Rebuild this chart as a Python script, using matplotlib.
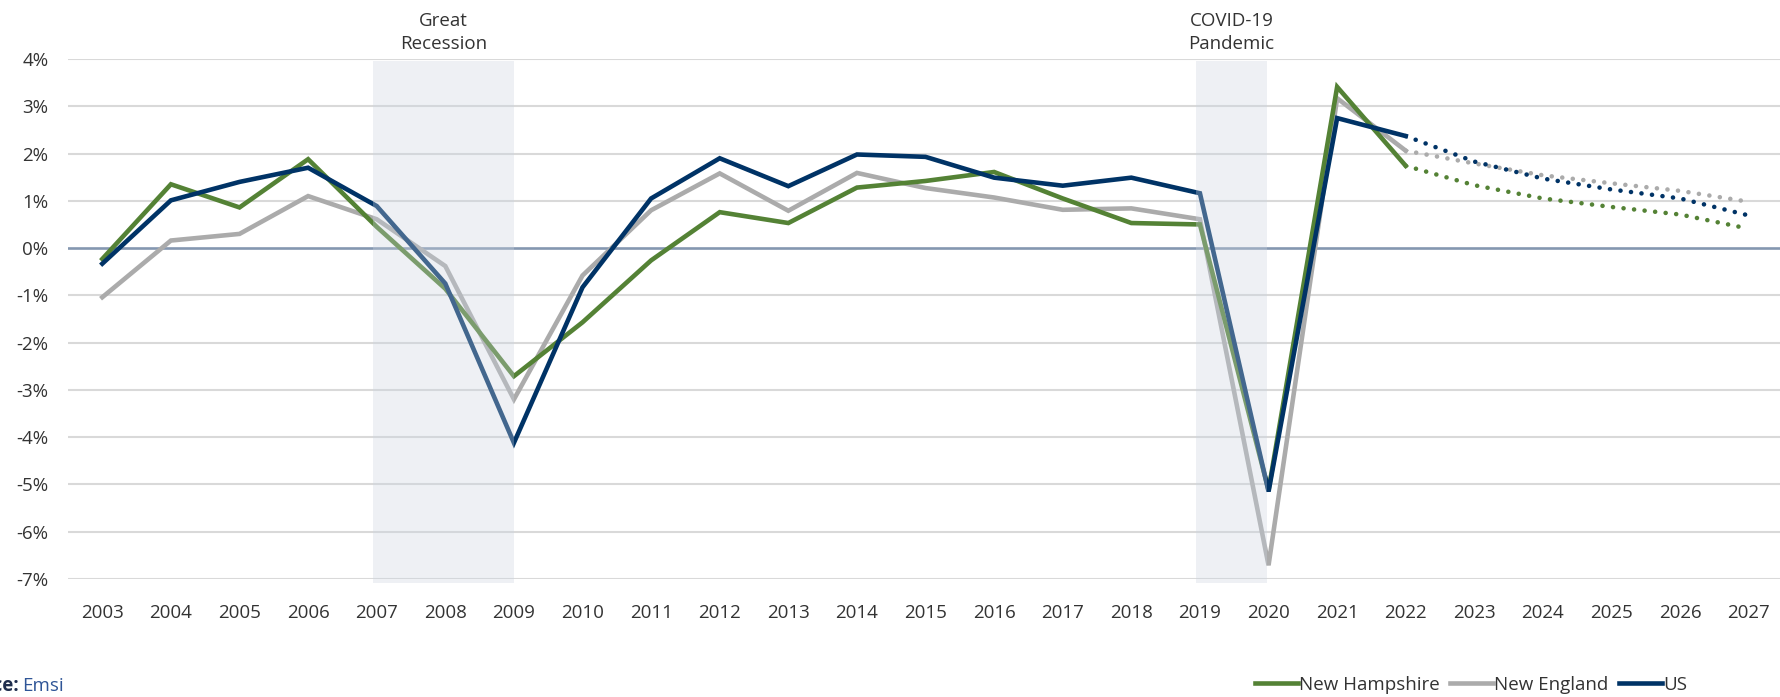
import matplotlib
matplotlib.use("Agg")
import matplotlib.pyplot as plt
from matplotlib.lines import Line2D

plt.rcParams['font.family'] = ['Open Sans', 'DejaVu Sans']

years = [str(y) for y in range(2003, 2028)]
# actual values 2003-2022
nh_actual = [-0.23, 1.35, 0.86, 1.88, 0.45, -0.86, -2.71, -1.57, -0.26, 0.76,
             0.53, 1.28, 1.42, 1.61, 1.05, 0.53, 0.50, -5.12, 3.41, 1.74]
ne_actual = [-1.04, 0.16, 0.30, 1.10, 0.61, -0.38, -3.20, -0.58, 0.80, 1.58,
             0.79, 1.59, 1.27, 1.07, 0.81, 0.84, 0.61, -6.71, 3.17, 2.06]
us_actual = [-0.33, 1.01, 1.40, 1.70, 0.89, -0.75, -4.12, -0.83, 1.05, 1.90,
             1.31, 1.98, 1.93, 1.49, 1.32, 1.49, 1.16, -5.15, 2.75, 2.37]
# forecast values 2022-2027
nh_fc = [1.74, 1.33, 1.05, 0.87, 0.71, 0.41]
ne_fc = [2.06, 1.79, 1.54, 1.37, 1.21, 0.98]
us_fc = [2.37, 1.83, 1.47, 1.24, 1.05, 0.69]

series_names = ['New Hampshire', 'New England', 'US']
colors = ['#548235', '#ABABAB', '#003366']
y_ticks = [4, 3, 2, 1, 0, -1, -2, -3, -4, -5, -6, -7]
shade_periods = [(3.94, 6.0), (15.94, 16.98)]
shade_labels = ['Great\nRecession', 'COVID-19\nPandemic']

W, H = 1781, 697
fig = plt.figure(figsize=(W/100, H/100), dpi=100)
left, right = 68/W, 1.0
bottom, top = 1-579/H, 1-59/H
ax = fig.add_axes([left, bottom, right-left, top-bottom])

x_act = list(range(len(nh_actual)))
x_fc = list(range(len(nh_actual)-1, len(years)))

for ys in y_ticks:
    if ys != 0:
        ax.axhline(ys, color='#D9D9D9', lw=1.5, zorder=1)
ax.axhline(0, color='#8497B0', lw=1.9, zorder=2)

actuals = [nh_actual, ne_actual, us_actual]
fcs = [nh_fc, ne_fc, us_fc]
zords = [4, 3, 5]
for vals, fc, c, z in zip(actuals, fcs, colors, zords):
    ax.plot(x_act, vals, color=c, lw=3.3, zorder=z, solid_joinstyle='miter')
    ax.plot(x_fc, fc, color=c, lw=3.3, zorder=z, linestyle=(0, (0.01, 2.3)),
            dash_capstyle='round')

for (a, b), lab in zip(shade_periods, shade_labels):
    ax.fill_between([a, b], -7.08, 3.95, color=(0.80, 0.83, 0.88), alpha=0.33,
                    lw=0, zorder=6, clip_on=False)
    ax.text((a+b)/2, 4.12, lab, ha='center', va='bottom', fontsize=13.5,
            color='#333333', linespacing=1.4)

ax.set_xlim(-0.5, 24.47)
ax.set_ylim(-7, 4)
ax.set_xticks(range(len(years)))
ax.set_xticklabels(years)
ax.set_yticks(y_ticks)
ax.set_yticklabels([f'{v}%' for v in y_ticks])
ax.tick_params(axis='both', length=0, labelsize=13.5, colors='#333333')
ax.tick_params(axis='x', pad=18)
ax.tick_params(axis='y', pad=14)
for s in ax.spines.values():
    s.set_visible(False)

handles = [Line2D([0], [0], color=c, lw=3.3) for c in colors]
fig.legend(handles, series_names, loc='center right', ncol=3,
           bbox_to_anchor=(1687/W, 1-685/H), frameon=False, fontsize=13.5,
           handlelength=2.3, handletextpad=0.05, columnspacing=0.55,
           borderpad=0, borderaxespad=0, labelcolor='#333333')

fig.text(19/W, 1-686/H, 'Source:', ha='right', va='center', fontsize=13.5,
         fontweight='bold', color='#1F2D4D')
fig.text(22/W, 1-686/H, 'Emsi', ha='left', va='center', fontsize=13.5,
         color='#2F5597')

fig.savefig('out.png', dpi=100)
